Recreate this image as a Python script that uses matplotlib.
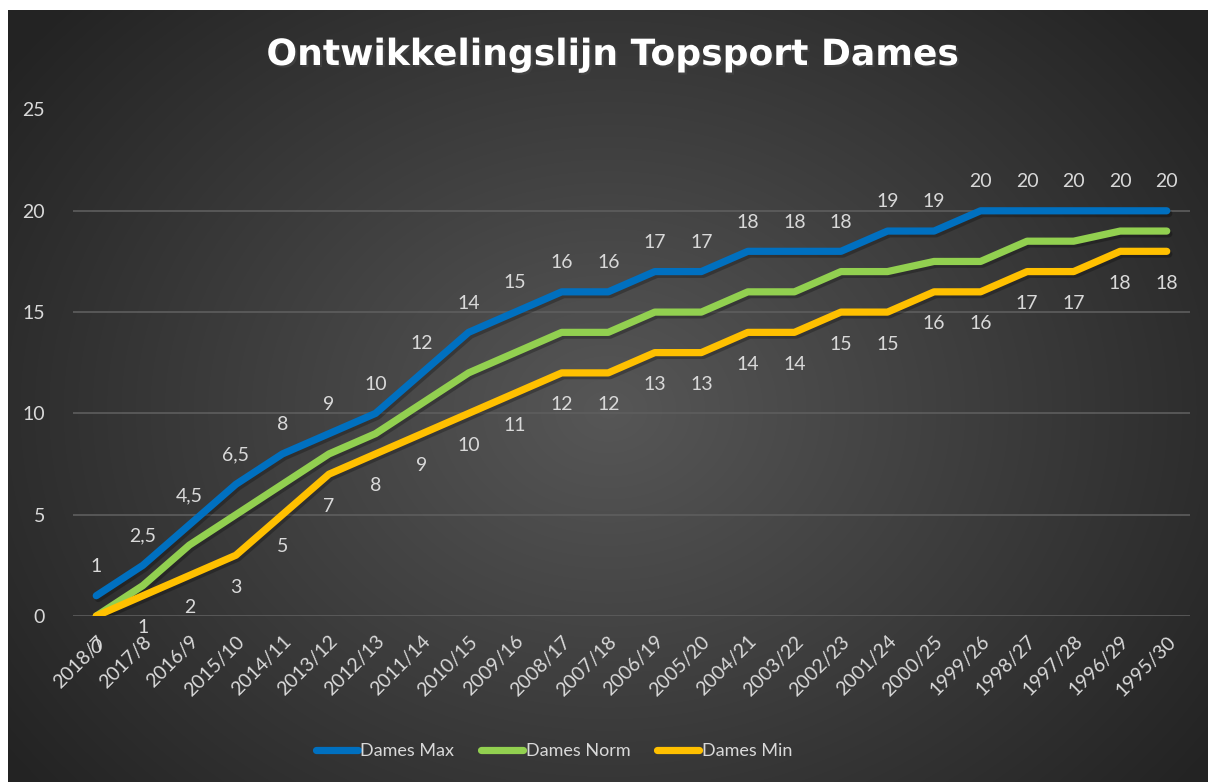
import matplotlib
matplotlib.use("Agg")
import matplotlib.pyplot as plt
import matplotlib.patheffects as pe
import numpy as np

seasons = ["2018/7", "2017/8", "2016/9", "2015/10", "2014/11", "2013/12", "2012/13",
           "2011/14", "2010/15", "2009/16", "2008/17", "2007/18", "2006/19", "2005/20",
           "2004/21", "2003/22", "2002/23", "2001/24", "2000/25", "1999/26", "1998/27",
           "1997/28", "1996/29", "1995/30"]
dames_max = [1, 2.5, 4.5, 6.5, 8, 9, 10, 12, 14, 15, 16, 16, 17, 17, 18, 18, 18,
             19, 19, 20, 20, 20, 20, 20]
dames_norm = [0, 1.5, 3.5, 5, 6.5, 8, 9, 10.5, 12, 13, 14, 14, 15, 15, 16, 16, 17,
              17, 17.5, 17.5, 18.5, 18.5, 19, 19]
dames_min = [0, 1, 2, 3, 5, 7, 8, 9, 10, 11, 12, 12, 13, 13, 14, 14, 15, 15, 16, 16,
             17, 17, 18, 18]

TXT = "#d9d9d9"
FONT = "Lato"

fig = plt.figure(figsize=(12.08, 7.82), dpi=100, facecolor="white")

# dark radial background panel
bg = fig.add_axes([8 / 1208, 0, 1 - 8 / 1208, 1 - 10 / 782], zorder=-10)
h, w = 772, 1200
yy, xx = np.mgrid[0:h, 0:w]
r = np.sqrt(((xx - 600) / 700) ** 2 + ((yy - 400) / 560) ** 2)
shade = np.clip(0.34 - 0.19 * r, 0.14, 0.34)
bg.imshow(np.dstack([shade] * 3), aspect="auto", interpolation="bilinear")
bg.axis("off")

ax = fig.add_axes([73 / 1208, 166 / 782, 1117 / 1208, 506.5 / 782])
ax.set_facecolor("none")
x = np.arange(len(seasons))

shadow = [pe.SimpleLineShadow(offset=(1.5, -2), alpha=0.25, shadow_color="black"), pe.Normal()]
series = [(dames_max, "#0070c0", "Dames Max"),
          (dames_norm, "#92d050", "Dames Norm"),
          (dames_min, "#ffc000", "Dames Min")]
for vals, col, lab in series:
    ax.plot(x, vals, color=col, lw=5.2, solid_capstyle="round", solid_joinstyle="round",
            label=lab, path_effects=shadow, zorder=3)


def fmt(v):
    return (f"{v:g}").replace(".", ",")


for xi, v in zip(x, dames_max):
    ax.annotate(fmt(v), (xi, v), xytext=(0, 21), textcoords="offset points",
                ha="center", va="center", color=TXT, fontsize=14, family=FONT)
for xi, v in zip(x, dames_min):
    ax.annotate(fmt(v), (xi, v), xytext=(0, -23), textcoords="offset points",
                ha="center", va="center", color=TXT, fontsize=14, family=FONT)

ax.set_xlim(-0.5, len(seasons) - 0.5)
ax.set_ylim(0, 25)
ax.set_yticks([0, 5, 10, 15, 20, 25])
ax.set_xticks(x)
ax.set_xticklabels(seasons, rotation=45, ha="right", va="top", rotation_mode="anchor")
ax.tick_params(axis="x", length=0, pad=12, labelsize=14, labelcolor=TXT)
ax.tick_params(axis="y", length=0, pad=20, labelsize=14, labelcolor=TXT)
for t in ax.get_xticklabels() + ax.get_yticklabels():
    t.set_family(FONT)
ax.grid(axis="y", color="#5e5e5e", lw=1.2)
ax.set_axisbelow(True)
for s in ax.spines.values():
    s.set_visible(False)

fig.text(613 / 1208, 1 - 55 / 782, "Ontwikkelingslijn Topsport Dames", ha="center", va="center",
         color="white", fontsize=26, fontweight="bold", family="DejaVu Sans",
         path_effects=[pe.withSimplePatchShadow(offset=(1.5, -1.5), alpha=0.5)])

leg = fig.legend(loc="center", bbox_to_anchor=(554 / 1208, 1 - 751 / 782), ncol=3, frameon=False,
                 handlelength=2.3, handletextpad=0.15, columnspacing=1.5,
                 prop={"family": FONT, "size": 13})
for t in leg.get_texts():
    t.set_color(TXT)
for l in leg.get_lines():
    l.set_path_effects([])

fig.savefig("out.png", dpi=100, facecolor="white")
